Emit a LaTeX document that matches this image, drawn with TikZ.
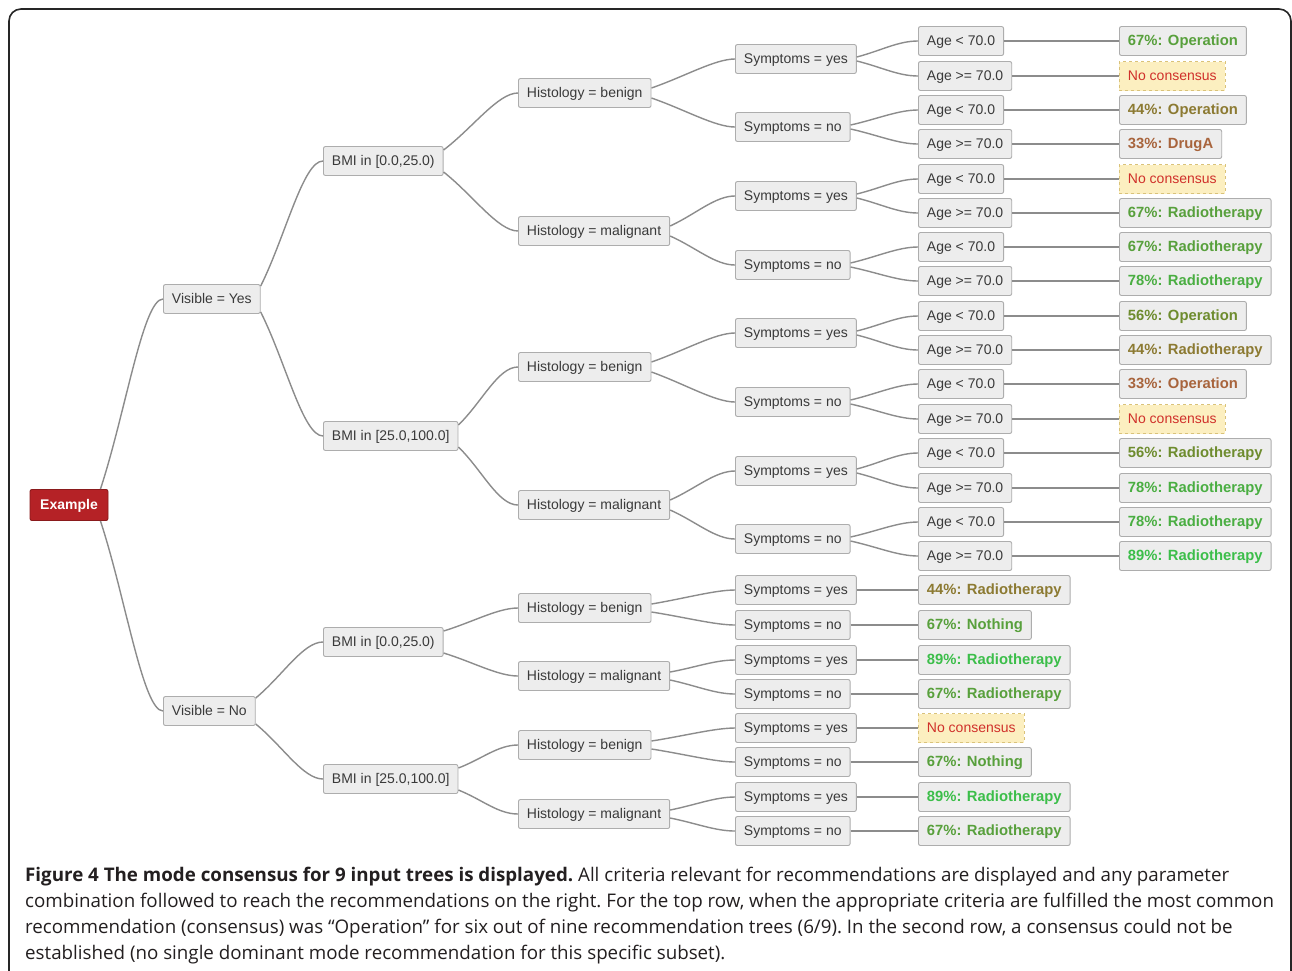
\documentclass[tikz,border=0pt]{standalone}
\usepackage{fontspec}
\setmainfont{Liberation Sans}
\newfontfamily\capfont{Open Sans}
\usetikzlibrary{calc}
\definecolor{boxfill}{HTML}{EDEDED}
\definecolor{boxline}{HTML}{ADADAD}
\definecolor{txt}{HTML}{3A3A3A}
\definecolor{linkc}{HTML}{8C8C8C}
\definecolor{ncfill}{HTML}{FCEFC0}
\definecolor{ncline}{HTML}{D9C27A}
\definecolor{ncred}{HTML}{D0302A}
\definecolor{exred}{HTML}{B52226}
\definecolor{exline}{HTML}{8A1A1C}
\definecolor{cA}{HTML}{A8643C}
\definecolor{cB}{HTML}{8C7A32}
\definecolor{cC}{HTML}{6E8C2E}
\definecolor{cD}{HTML}{58A03C}
\definecolor{cE}{HTML}{4AAE42}
\definecolor{cF}{HTML}{3CBE4A}
\definecolor{captxt}{HTML}{231F20}
\tikzset{
  nd/.style={draw=boxline, fill=boxfill, rounded corners=2pt, line width=0.9pt,
    minimum height=29pt, inner xsep=8.5pt, inner ysep=0pt, anchor=west, text=txt,
    text height=9.5pt, text depth=0.5pt,
    font=\fontsize{14}{16}\selectfont},
  leafbox/.style={nd, font=\fontsize{14.8}{16}\selectfont\bfseries},
  p33/.style={leafbox, text=cA},
  p44/.style={leafbox, text=cB},
  p56/.style={leafbox, text=cC},
  p67/.style={leafbox, text=cD},
  p78/.style={leafbox, text=cE},
  p89/.style={leafbox, text=cF},
  nc/.style={nd, fill=ncfill, draw=ncline, dashed, rounded corners=0pt, text=ncred},
  lin/.style={draw=linkc, line width=1.4pt},
  captext/.style={inner sep=0pt, anchor=base west, text=captxt, font=\capfont\fontsize{18.75}{20}\selectfont\frenchspacing},
}
\newcommand\lnk[2]{\draw[lin] #1 coordinate (tmp) .. controls ($(tmp)!0.4!(#2.west)$) and ($(#2.west)+(-20,0)$) .. (#2.west);}
\begin{document}
\begin{tikzpicture}[x=1pt,y=-1pt]
\useasboundingbox (0,0) rectangle (1292,970);
\fill[white] (0,0) rectangle (1292,970);
\draw[line width=1.6pt, rounded corners=12pt, color=black!85] (9,9) rectangle (1291,1000);

% root
\node[draw=exline, fill=exred, rounded corners=2pt, line width=0.9pt, minimum width=78pt,
  minimum height=31pt, inner sep=0pt, text height=9.5pt, text depth=0.5pt, text=white, font=\fontsize{14}{16}\selectfont\bfseries] (ex) at (69,505) {Example};

% level 1
\node[nd] (vy) at (163,299) {Visible = Yes};
\node[nd] (vn) at (163,711) {Visible = No};

% level 2
\foreach \i/\y/\t in {1/161/{[0.0,25.0)},2/436/{[25.0,100.0]},3/642/{[0.0,25.0)},4/779/{[25.0,100.0]}}
  \node[nd] (b\i) at (323,\y) {BMI in \t};

% level 3
\foreach \i/\y/\t in {1/93/benign,2/231/malignant,3/367/benign,4/505/malignant,5/608/benign,6/676/malignant,7/745/benign,8/814/malignant}
  \node[nd] (h\i) at (518,\y) {Histology = \t};

% level 4
\foreach \i/\y/\t in {1/59/yes,2/127/no,3/196/yes,4/265/no,5/333/yes,6/402/no,7/471/yes,8/539/no}
  \node[nd] (s\i) at (735,\y) {Symptoms = \t};
\foreach \i/\y/\t in {1/590/yes,2/625/no,3/660/yes,4/694/no,5/728/yes,6/762/no,7/797/yes,8/831/no}
  \node[nd] (t\i) at (735,\y) {Symptoms = \t};

% level 5
\foreach \i/\y in {1/41,2/76,3/110,4/144,5/179,6/213,7/247,8/281,9/316,10/350,11/384,12/419,13/453,14/488,15/522,16/556}
  \node[nd] (a\i) at (918,\y) {\ifodd\i Age < 70.0\else Age >= 70.0\fi};

% leaves (yes branch)
\foreach \i/\y/\s/\t in {1/41/p67/{67\%: Operation},2/76/nc/{No consensus},3/110/p44/{44\%: Operation},4/144/p33/{33\%: DrugA},
  5/179/nc/{No consensus},6/213/p67/{67\%: Radiotherapy},7/247/p67/{67\%: Radiotherapy},8/281/p78/{78\%: Radiotherapy},
  9/316/p56/{56\%: Operation},10/350/p44/{44\%: Radiotherapy},11/384/p33/{33\%: Operation},12/419/nc/{No consensus},
  13/453/p56/{56\%: Radiotherapy},14/488/p78/{78\%: Radiotherapy},15/522/p78/{78\%: Radiotherapy},16/556/p89/{89\%: Radiotherapy}}
  \node[\s] (l\i) at (1119,\y) {\t};

% leaves (no branch)
\foreach \i/\y/\s/\t in {1/590/p44/{44\%: Radiotherapy},2/625/p67/{67\%: Nothing},3/660/p89/{89\%: Radiotherapy},4/694/p67/{67\%: Radiotherapy},
  5/728/nc/{No consensus},6/762/p67/{67\%: Nothing},7/797/p89/{89\%: Radiotherapy},8/831/p67/{67\%: Radiotherapy}}
  \node[\s] (m\i) at (918,\y) {\t};

% connectors
\lnk{($(ex.north east)+(-8,0)$)}{vy}
\lnk{($(ex.south east)+(-8,0)$)}{vn}
\lnk{($(vy.east)+(0,-13)$)}{b1}
\lnk{($(vy.east)+(0,13)$)}{b2}
\lnk{($(vn.east)+(0,-13)$)}{b3}
\lnk{($(vn.east)+(0,13)$)}{b4}
\foreach \k in {1,...,4}{
  \pgfmathtruncatemacro\u{2*\k-1}\pgfmathtruncatemacro\d{2*\k}
  \lnk{($(b\k.east)+(0,-11)$)}{h\u}
  \lnk{($(b\k.east)+(0,11)$)}{h\d}
}
\foreach \k in {1,...,4}{
  \pgfmathtruncatemacro\u{2*\k-1}\pgfmathtruncatemacro\d{2*\k}
  \lnk{($(h\k.east)+(0,-5)$)}{s\u}
  \lnk{($(h\k.east)+(0,5)$)}{s\d}
}
\foreach \k in {5,...,8}{
  \pgfmathtruncatemacro\u{2*\k-9}\pgfmathtruncatemacro\d{2*\k-8}
  \lnk{($(h\k.east)+(0,-4)$)}{t\u}
  \lnk{($(h\k.east)+(0,4)$)}{t\d}
}
\foreach \k in {1,...,8}{
  \pgfmathtruncatemacro\u{2*\k-1}\pgfmathtruncatemacro\d{2*\k}
  \lnk{($(s\k.east)+(0,-2)$)}{a\u}
  \lnk{($(s\k.east)+(0,2)$)}{a\d}
}
\foreach \i in {1,...,16} \draw[lin] (a\i.east) -- (l\i.west);
\foreach \i in {1,...,8} \draw[lin] (t\i.east) -- (m\i.west);

% caption
\node[captext] (c1) at (25,881) {\textbf{Figure 4 The mode consensus for 9 input trees is displayed.} All criteria relevant for recommendations are displayed and any parameter};
\node[captext] (c2) at (25,907) {combination followed to reach the recommendations on the right. For the top row, when the appropriate criteria are fulfilled the most common};
\node[captext] (c3) at (25,933) {recommendation (consensus) was “Operation” for six out of nine recommendation trees (6/9). In the second row, a consensus could not be};
\node[captext] (c4) at (25,959) {established (no single dominant mode recommendation for this specific subset).};
\end{tikzpicture}
\end{document}
